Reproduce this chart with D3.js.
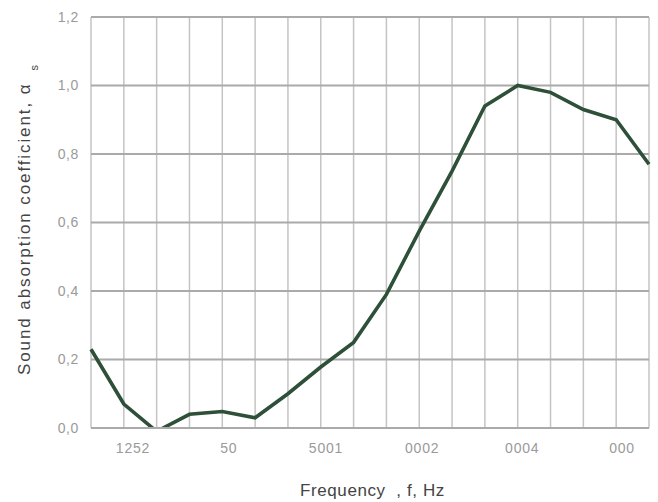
<!DOCTYPE html>
<html>
<head>
<meta charset="utf-8">
<script src="https://cdn.jsdelivr.net/npm/d3@7"></script>
<style>
  html, body { margin: 0; padding: 0; background: #fff; }
  svg { display: block; font-family: "Liberation Sans", Arial, sans-serif; }
</style>
</head>
<body>
<div id="chart"></div>
<script>
// ---- data ----
const pointIndex = [0, 1, 2, 3, 4, 5, 6, 7, 8, 9, 10, 11, 12, 13, 14, 15, 16, 17];
const absorption = [0.23, 0.07, -0.01, 0.04, 0.048, 0.03, 0.10, 0.178, 0.25, 0.39, 0.575, 0.75, 0.94, 1.0, 0.98, 0.93, 0.90, 0.77];
const xTickLabels = ["1252", "50", "5001", "0002", "0004", "000"];
const xTickPos = [1.28, 4.2, 7.16, 10.09, 13.14, 16.18];
const yTicks = [0, 0.2, 0.4, 0.6, 0.8, 1.0, 1.2];
const yTickLabels = ["0,0", "0,2", "0,4", "0,6", "0,8", "1,0", "1,2"];
const xTitle = "Frequency  , f, Hz";
const yTitle = "Sound absorption coefficient, α";
const yTitleSub = "s";

// ---- layout ----
const W = 658, H = 502;
const m = { left: 91, right: 9, top: 17, bottom: 74 };
const pw = W - m.left - m.right, ph = H - m.top - m.bottom;

const svg = d3.select("#chart").append("svg").attr("width", W).attr("height", H);
const g = svg.append("g").attr("transform", `translate(${m.left},${m.top})`);

const x = d3.scaleLinear().domain([0, 17]).range([0, pw]);
const y = d3.scaleLinear().domain([0, 1.2]).range([ph, 0]);

// vertical grid
g.append("g").selectAll("line").data(pointIndex).join("line")
  .attr("x1", d => x(d)).attr("x2", d => x(d))
  .attr("y1", 0).attr("y2", ph)
  .attr("stroke", "#c4c4c4").attr("stroke-width", 1.5);

// horizontal grid
g.append("g").selectAll("line").data(yTicks).join("line")
  .attr("x1", 0).attr("x2", pw)
  .attr("y1", d => y(d)).attr("y2", d => y(d))
  .attr("stroke", "#aaaaaa").attr("stroke-width", 2);

// y tick labels
g.append("g").selectAll("text").data(yTicks).join("text")
  .attr("x", -12).attr("y", d => y(d)).attr("dy", "0.35em")
  .attr("text-anchor", "end")
  .attr("fill", "#9a9a9a").attr("font-size", 14).attr("letter-spacing", 0.6)
  .text((d, i) => yTickLabels[i]);

// x tick labels
g.append("g").selectAll("text").data(xTickPos).join("text")
  .attr("x", d => x(d)).attr("y", ph + 25)
  .attr("text-anchor", "middle")
  .attr("fill", "#9a9a9a").attr("font-size", 14).attr("letter-spacing", 0.8)
  .text((d, i) => xTickLabels[i]);

// clip
svg.append("clipPath").attr("id", "clip").append("rect")
  .attr("x", -2).attr("y", -2).attr("width", pw + 4).attr("height", ph + 1);

const line = d3.line().x((d, i) => x(pointIndex[i])).y(d => y(d));
g.append("path").datum(absorption)
  .attr("clip-path", "url(#clip)")
  .attr("d", line)
  .attr("fill", "none").attr("stroke", "#2e5039")
  .attr("stroke-width", 3.6).attr("stroke-linejoin", "miter");

// axis titles
svg.append("text")
  .attr("x", 300).attr("y", 496)
  .attr("text-anchor", "start").attr("fill", "#444").attr("font-size", 17)
  .attr("letter-spacing", 0.6)
  .style("white-space", "pre")
  .text(xTitle);

const yt = svg.append("text")
  .attr("transform", `translate(30,${375}) rotate(-90)`)
  .attr("text-anchor", "start").attr("fill", "#444").attr("font-size", 17)
  .attr("letter-spacing", 1.9);
yt.append("tspan").text(yTitle);
yt.append("tspan").attr("dx", 12).attr("dy", 8).attr("font-size", 11).text(yTitleSub);
</script>
</body>
</html>
